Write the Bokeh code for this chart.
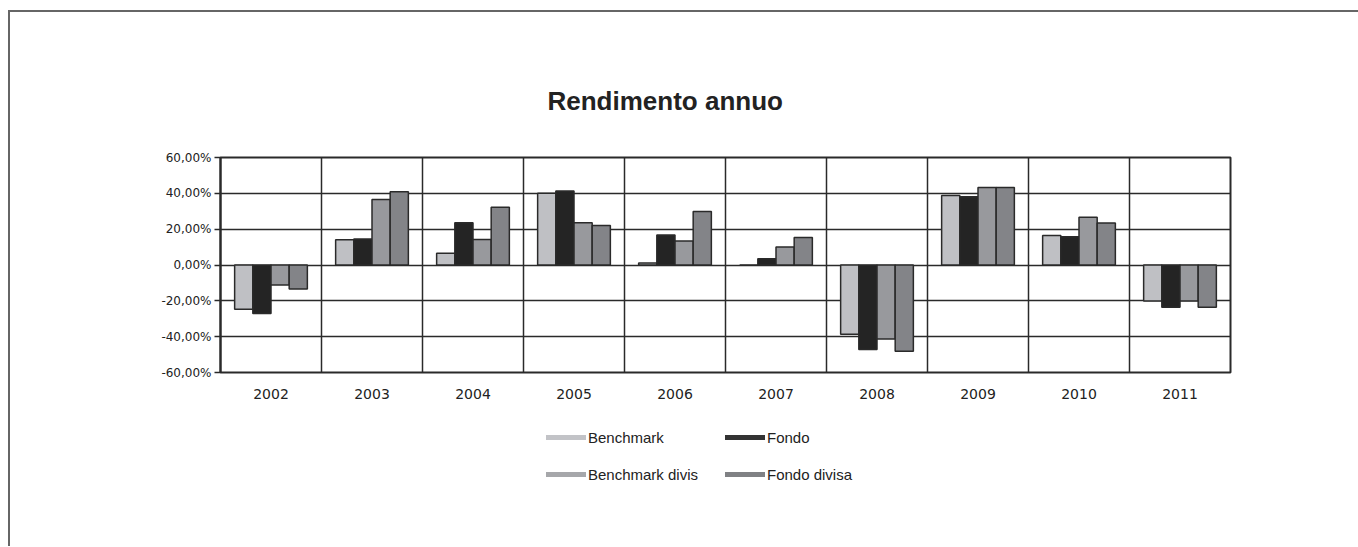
from bokeh.plotting import figure
from bokeh.layouts import column
from bokeh.models import (ColumnDataSource, FixedTicker, CustomJSTickFormatter, Range1d,
                          Legend, LegendItem)
from bokeh.embed import file_html
from bokeh.resources import INLINE

years = ["2002", "2003", "2004", "2005", "2006", "2007", "2008", "2009", "2010", "2011"]
benchmark = [-24.7, 14.1, 6.5, 40.0, 1.1, 0.0, -38.7, 38.8, 16.5, -20.1]
fondo = [-27.1, 14.5, 23.6, 41.3, 16.7, 3.5, -47.2, 38.1, 15.8, -23.6]
benchmark_divisa = [-11.2, 36.6, 14.3, 23.6, 13.4, 10.0, -41.3, 43.3, 26.6, -20.1]
fondo_divisa = [-13.4, 40.9, 32.2, 22.1, 29.9, 15.4, -48.1, 43.3, 23.4, -23.6]
y_ticks = [-60, -40, -20, 0, 20, 40, 60]

series = [
    ("Benchmark", benchmark, "#bfc0c4", "#c2c3c7"),
    ("Fondo", fondo, "#242424", "#333333"),
    ("Benchmark divis", benchmark_divisa, "#98999d", "#a6a7aa"),
    ("Fondo divisa", fondo_divisa, "#838488", "#808184"),
]

DARK = "#2a2a2a"

p = figure(frame_width=1010, frame_height=215, output_backend="svg", toolbar_location=None,
           x_range=Range1d(0, len(years)), y_range=Range1d(-60, 60),
           min_border_left=210, min_border_right=128, min_border_top=145, min_border_bottom=30,
           background_fill_color="white", border_fill_color="white")

p.title.text = "Rendimento annuo"
p.title.align = "left"
p.title.text_font = "Liberation Sans"
p.title.text_font_size = "26px"
p.title.text_font_style = "bold"
p.title.text_color = "#222222"
p.title.standoff = 84
p.title.offset = 327

bw = 0.18
for k, (name, vals, fill, swatch) in enumerate(series):
    xs = [i + 0.5 + (k - 1.5) * bw for i in range(len(years))]
    src = ColumnDataSource(dict(x=xs, top=vals))
    p.vbar(x="x", top="top", bottom=0, width=bw, source=src, fill_color=fill,
           line_color=DARK, line_width=1.5)

p.outline_line_color = DARK
p.outline_line_width = 2

p.xgrid.ticker = FixedTicker(ticks=list(range(1, len(years))))
p.xgrid.grid_line_color = DARK
p.xgrid.grid_line_width = 1.5
p.ygrid.ticker = FixedTicker(ticks=y_ticks)
p.ygrid.grid_line_color = DARK
p.ygrid.grid_line_width = 1.5

xa = p.xaxis[0]
xa.ticker = FixedTicker(ticks=[i + 0.5 for i in range(len(years))])
xa.major_label_overrides = {i + 0.5: y for i, y in enumerate(years)}
xa.axis_line_color = None
xa.major_tick_line_color = None
xa.minor_tick_line_color = None
xa.major_label_standoff = 10
xa.major_label_text_font = "DejaVu Sans"
xa.major_label_text_font_size = "14px"
xa.major_label_text_color = "#222222"

ya = p.yaxis[0]
ya.ticker = FixedTicker(ticks=y_ticks)
ya.formatter = CustomJSTickFormatter(code="return tick.toFixed(2).replace('.', ',') + '%';")
ya.axis_line_color = DARK
ya.axis_line_width = 2
ya.major_tick_line_color = DARK
ya.major_tick_line_width = 1.5
ya.major_tick_out = 6
ya.major_tick_in = 0
ya.minor_tick_line_color = None
ya.major_label_standoff = 3
ya.major_label_text_font = "DejaVu Sans"
ya.major_label_text_font_size = "12px"
ya.major_label_text_color = "#222222"

# legend strip
lg = figure(width=1348, height=144, output_backend="svg", toolbar_location=None,
            x_range=Range1d(0, 1), y_range=Range1d(0, 1),
            min_border_left=0, min_border_right=0, min_border_top=0, min_border_bottom=0,
            background_fill_color="white", border_fill_color="white")
lg.xaxis.visible = False
lg.yaxis.visible = False
lg.xgrid.visible = False
lg.ygrid.visible = False
lg.outline_line_color = None

legend_items = []
for name, vals, fill, swatch in series:
    r = lg.line(x=list(range(len(vals))), y=vals, line_color=swatch, line_width=5,
                line_cap="round", visible=False)
    legend_items.append(LegendItem(label=name, renderers=[r]))

legend = Legend(items=legend_items, ncols=2, orientation="horizontal", location=(326, 62),
                glyph_width=40, glyph_height=20, label_height=20, label_width=120,
                label_standoff=2, spacing=17, padding=0, margin=0,
                label_text_font="Liberation Sans", label_text_font_size="15px",
                label_text_color="#222222", border_line_color=None,
                background_fill_alpha=0)
lg.add_layout(legend, "center")

layout = column(p, lg, spacing=0,
                styles={"border-top": "2px solid #666666", "border-left": "2px solid #666666",
                        "margin-top": "10px", "margin-left": "8px"})

open("out.html", "w").write(file_html(layout, INLINE))
